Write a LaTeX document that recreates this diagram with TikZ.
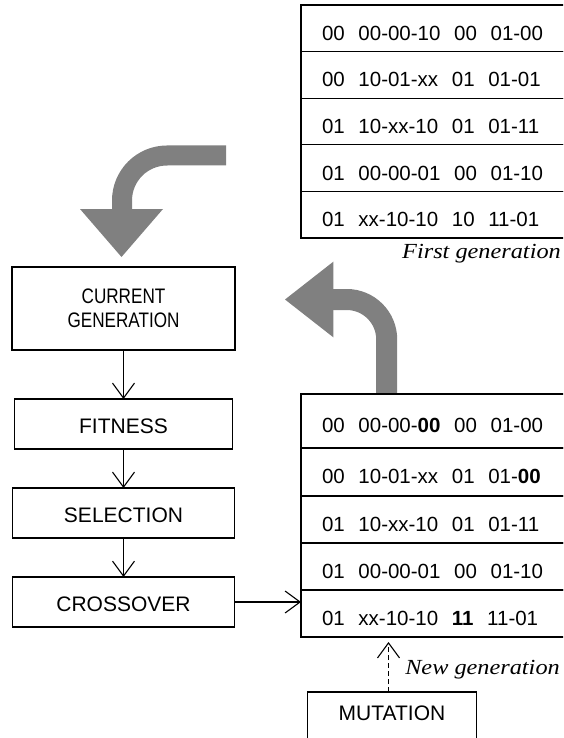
\documentclass[tikz,border=0pt]{standalone}
\usepackage{fontspec}
\setmainfont{Liberation Sans}
\newfontfamily\narrowfont[FakeStretch=0.815]{Liberation Sans}
\newfontfamily\genfont[FakeStretch=1.13,UprightFont={* Italic}]{Liberation Serif}
\usepackage{tikz}
\usetikzlibrary{positioning,arrows.meta}
\definecolor{turngray}{HTML}{808080}

\begin{document}
\begin{tikzpicture}[x=1pt,y=-1pt]
\tikzset{every node/.style={font=\fontsize{21}{24}\selectfont}}
\tikzset{flowbox/.style={draw,line width=1.1pt,align=center,inner sep=0pt,outer sep=0pt}}
\tikzset{stepbox/.style={flowbox,minimum width=222pt,minimum height=50pt,text height=20pt}}
\tikzset{genrow/.style={draw,line width=1.1pt,anchor=north west,text width=300pt,inner xsep=21pt,inner ysep=0pt,outer sep=0pt,text height=24pt,align=left,font=\fontsize{20.5}{24}\selectfont}}
\tikzset{flow/.style={line width=1.1pt,-{Straight Barb[length=15pt,width=22pt]}}}
\tikzset{turn/.style={draw=turngray,line width=20pt,rounded corners=45pt}}
\tikzset{caption/.style={anchor=base east,inner sep=0pt,font=\genfont\fontsize{21.5}{24}\selectfont}}
\useasboundingbox (0,0) rectangle (563,738);
\clip (0,0) rectangle (563,738);

% gray turning arrows
\draw[turn] (226,155.5) -| (122,210);
\fill[turngray] (80,209) -- (163,209) -- (121.5,257) -- cycle;
\draw[turn,line width=21pt,rounded corners=40pt] (386.7,394) |- (332,299.5);
\fill[turngray] (333.3,261.7) -- (333.3,337.3) -- (285,299.5) -- cycle;

% first generation
\foreach \code [count=\i] in {00~~00-00-10~~00~~01-00, 00~~10-01-xx~~01~~01-01,
    01~~10-xx-10~~01~~01-11, 01~~00-00-01~~00~~01-10, 01~~xx-10-10~~10~~11-01}
  \node[genrow,minimum height=46.6pt] (old\i) at (301,{5+(\i-1)*46.6}) {\code};
\node[caption] (oldlbl) at (561,258) {First generation};

% new generation
\foreach \ytop/\rowh/\code [count=\i] in {394/54/00~~00-00-\textbf{00}~~00~~01-00,
    448/48/00~~10-01-xx~~01~~01-\textbf{00}, 496/47/01~~10-xx-10~~01~~01-11,
    543/47/01~~00-00-01~~00~~01-10, 590/47/01~~xx-10-10~~\textbf{11}~~11-01}
  \node[genrow,minimum height=\rowh pt] (new\i) at (301,\ytop) {\code};

\node[flowbox,minimum width=223pt,minimum height=83pt,font=\narrowfont\fontsize{21}{24}\selectfont] (cur) at (123.5,308.5) {CURRENT\\GENERATION};
\node[stepbox,minimum width=218pt,below=49pt of cur] (fit) {FITNESS};
\node[stepbox,below=39pt of fit] (sel) {SELECTION};
\node[stepbox,below=39pt of sel] (cro) {CROSSOVER};
\node[flowbox,minimum width=169pt,minimum height=52pt,text depth=10pt,anchor=north] (mut) at (392,692) {MUTATION};

\draw[flow] (cur) -- (fit);
\draw[flow] (fit) -- (sel);
\draw[flow] (sel) -- (cro);
\draw[flow] (cro.east) -- (cro.east -| new5.west);
\draw[flow,dashed,dash pattern=on 5pt off 3pt,shorten >=5pt] ([xshift=-3.5pt]mut.north) -- ([xshift=-3.5pt]mut.north |- new5.south);
\node[caption] (newlbl) at (560,674) {New generation};
\end{tikzpicture}
\end{document}
